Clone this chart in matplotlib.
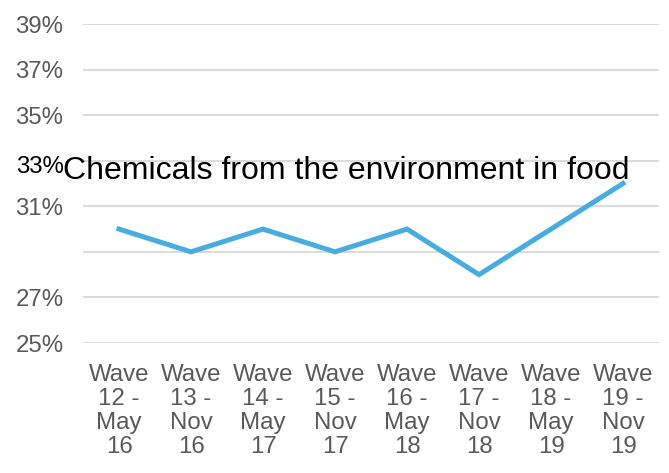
import matplotlib
matplotlib.use("Agg")
import matplotlib.pyplot as plt
from matplotlib.transforms import ScaledTranslation

categories = ["Wave\n12 -\nMay\n16", "Wave\n13 -\nNov\n16", "Wave\n14 -\nMay\n17", "Wave\n15 -\nNov\n17",
              "Wave\n16 -\nMay\n18", "Wave\n17 -\nNov\n18", "Wave\n18 -\nMay\n19", "Wave\n19 -\nNov\n19"]
values = [30, 29, 30, 29, 30, 28, 30, 32]
yticks = [25, 27, 29, 31, 33, 35, 37, 39]
ytick_labels = ["25%", "27%", "", "31%", "33%", "35%", "37%", "39%"]
title = "Chemicals from the environment in food"

plt.rcParams['font.family'] = ['Liberation Sans', 'DejaVu Sans']
W, H = 669, 473
fig = plt.figure(figsize=(W/100, H/100), dpi=100)
ax = fig.add_axes([83/W, 1-343/H, (659-83)/W, (343-24)/H])

x = list(range(len(categories)))
ax.plot(x, values, color='#47ADE0', linewidth=3.6, solid_joinstyle='miter', zorder=3)
ax.set_xlim(-0.5, len(categories)-0.5)
ax.set_ylim(25, 39)
ax.set_yticks(yticks)
ax.set_yticklabels(ytick_labels)
ax.set_xticks(x)
ax.set_xticklabels(categories, linespacing=1.12)
ax.grid(axis='y', color='#D9D9D9', linewidth=1.3)
ax.set_axisbelow(True)
for s in ax.spines.values():
    s.set_visible(False)
ax.tick_params(axis='both', length=0, labelsize=17.3, colors='#595959')
ax.tick_params(axis='y', pad=14)
ax.tick_params(axis='x', pad=15)
for lab in ax.get_yticklabels():
    if lab.get_text() == "33%":
        lab.set_color('black')
        lab.set_transform(lab.get_transform() + ScaledTranslation(0, -4/100, fig.dpi_scale_trans))

fig.text(346/W, 1-179/H, title, ha='center', va='baseline', fontsize=23, color='black', zorder=5)

fig.savefig("out.png", dpi=100)
